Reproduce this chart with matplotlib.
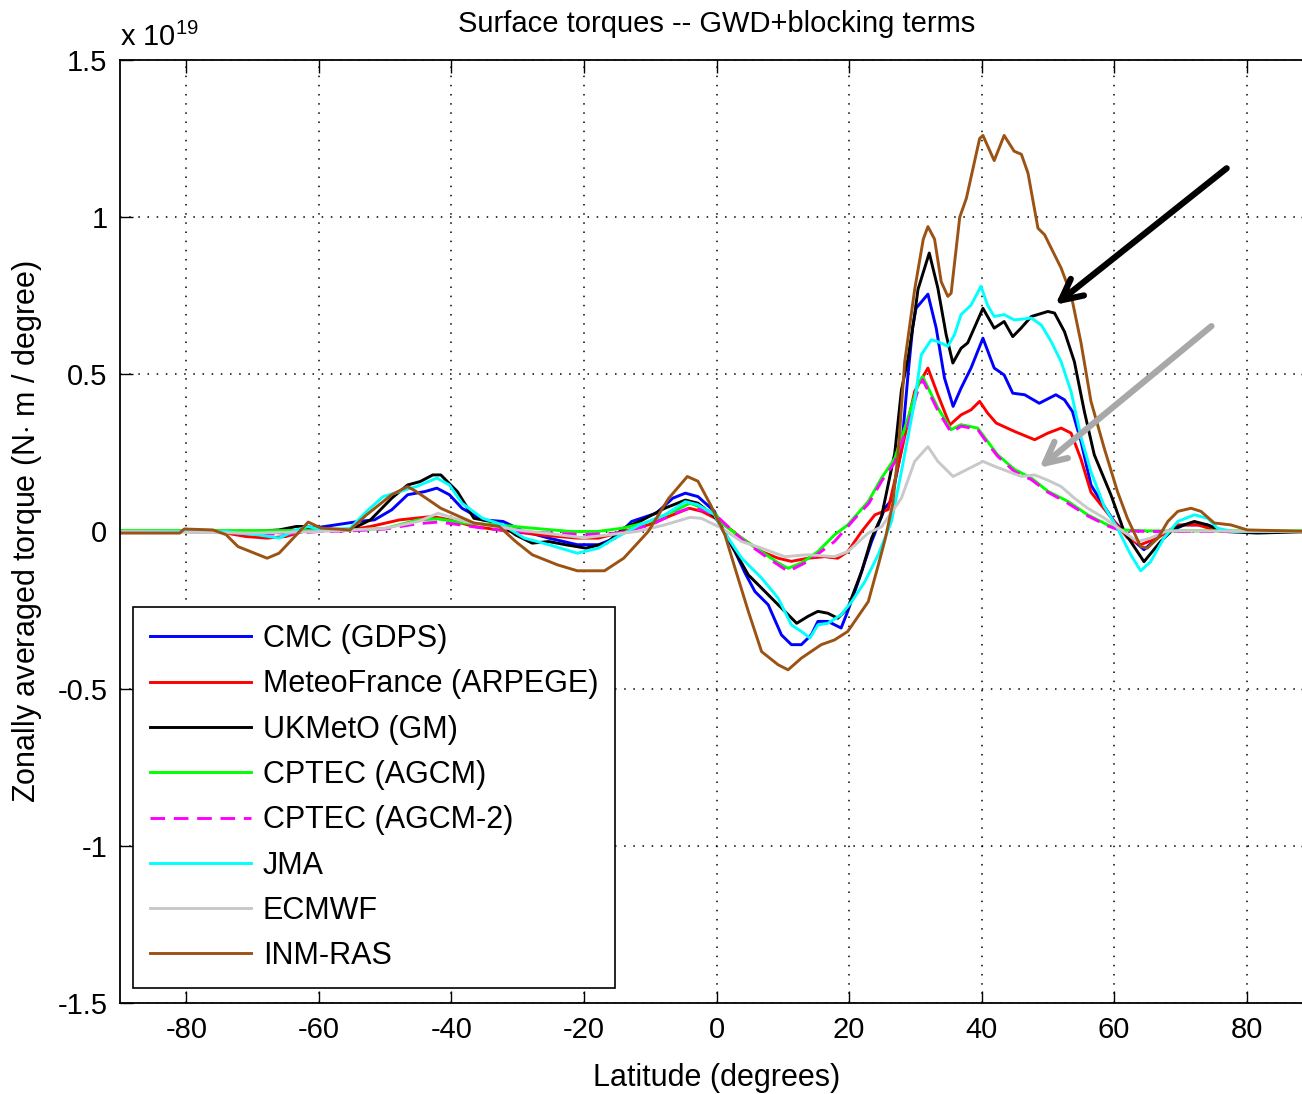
import matplotlib
matplotlib.use("Agg")
import matplotlib.pyplot as plt

# values in units of 1e19 N m / degree
lat_cmc = [-90, -70, -65, -61, -57.8, -54, -51.6, -49, -46.6, -44, -42.2, -40.3, -38.4, -35.3, -32.2, -29,
           -25.3, -21, -17.8, -15.3, -12.8, -9.1, -6.6, -4.7, -2.8, -0.3, 0.75, 2.8, 4.3, 5.8, 7.8, 9.8,
           11.3, 12.8, 14.3, 15.3, 16.8, 18.8, 19.8, 21.4, 23.4, 25.4, 26.4, 27.9, 28.9, 29.6, 30.1, 31.9,
           33.15, 34.4, 35.7, 36.9, 38.4, 40.2, 41.9, 43.4, 44.7, 46.5, 48.7, 51.2, 52.5, 53.7, 55, 56.5,
           58, 60, 62.5, 64.5, 67, 70.6, 74, 76.6, 90]
val_cmc = [0, 0, -0.005, 0.01, 0.02, 0.032, 0.037, 0.069, 0.117, 0.127, 0.138, 0.117, 0.074, 0.037, 0.032, 0,
           -0.021, -0.042, -0.042, -0.021, 0.032, 0.058, 0.106, 0.122, 0.111, 0.064, 0.011, -0.064, -0.132,
           -0.191, -0.233, -0.329, -0.36, -0.36, -0.329, -0.286, -0.286, -0.307, -0.254, -0.159, -0.032,
           0.074, 0.1, 0.26, 0.5, 0.65, 0.71, 0.755, 0.647, 0.488, 0.398, 0.456, 0.52, 0.615, 0.52, 0.498,
           0.44, 0.435, 0.408, 0.435, 0.419, 0.382, 0.286, 0.148, 0.096, 0.032, -0.021, -0.058, -0.011,
           0.021, 0.021, 0, 0]

lat_mf = [-90, -76, -74, -71, -67.8, -65, -61.6, -55.3, -52.2, -47.8, -42.8, -40.3, -36.6, -32.8, -26.6,
          -21, -17.8, -14, -10.3, -6.6, -4.1, -2.2, 0.3, 3.8, 6.8, 9.3, 11.3, 13.8, 16.3, 18.3, 19.8, 21.9,
          23.9, 25.9, 27.9, 29.9, 31.9, 33.4, 35.2, 36.9, 38.4, 39.7, 40.9, 42.2, 45, 48, 50, 52, 53.5, 55,
          56.5, 58, 60, 62, 64, 66.5, 69.6, 72.6, 76, 90]
val_mf = [0, 0, -0.005, -0.016, -0.021, -0.016, 0.005, 0.005, 0.016, 0.037, 0.048, 0.037, 0.016, 0.005,
          -0.011, -0.021, -0.021, 0, 0.021, 0.053, 0.074, 0.064, 0.037, -0.021, -0.064, -0.085, -0.095,
          -0.085, -0.08, -0.085, -0.064, 0, 0.053, 0.07, 0.255, 0.446, 0.52, 0.435, 0.339, 0.371, 0.387,
          0.414, 0.377, 0.345, 0.318, 0.292, 0.313, 0.329, 0.313, 0.23, 0.125, 0.085, 0.032, -0.02, -0.042,
          -0.021, 0.021, 0.021, 0, 0]

lat_uk = [-90, -70, -66, -63.4, -61.6, -59.7, -55.3, -52.2, -49, -46.6, -44.7, -42.8, -41.6, -39.1, -36.6,
          -32.8, -30.3, -27.8, -25.3, -22.8, -19.7, -16.6, -14, -11.6, -7.8, -4.7, -2.8, -0.3, 0.75, 2.8,
          4.8, 6.8, 9.3, 12.1, 13.8, 15.3, 16.8, 18.3, 19.8, 21.9, 23.4, 24.9, 26.9, 27.9, 28.9, 29.9, 30.4,
          32.1, 33.4, 34.65, 35.66, 36.9, 37.9, 40.2, 41.9, 43.4, 44.7, 45.95, 47.5, 50, 51, 52.5, 54, 55.5,
          57, 59.5, 61.5, 64.5, 67, 69.1, 72.1, 74.1, 76.6, 81.6, 90]
val_uk = [0, 0, 0.005, 0.016, 0.016, 0.005, 0.005, 0.037, 0.106, 0.148, 0.159, 0.18, 0.18, 0.127, 0.042,
          0.027, -0.011, -0.037, -0.032, -0.042, -0.053, -0.037, 0.011, 0.032, 0.074, 0.1, 0.09, 0.048,
          0.016, -0.064, -0.138, -0.18, -0.233, -0.292, -0.27, -0.254, -0.26, -0.276, -0.244, -0.127,
          -0.021, 0.048, 0.25, 0.45, 0.55, 0.69, 0.77, 0.886, 0.774, 0.626, 0.536, 0.583, 0.6, 0.71, 0.647,
          0.668, 0.62, 0.647, 0.684, 0.70, 0.695, 0.636, 0.54, 0.382, 0.244, 0.117, 0, -0.096, -0.032,
          0.011, 0.032, 0.021, 0, -0.005, 0]

lat_cp = [-90, -60, -55, -50, -45, -42, -38, -33, -28, -22, -18, -14, -10, -6, -4, -2, 0, 0.75, 3.8, 6.8,
          9.3, 10.8, 12.8, 15.3, 17.8, 19.8, 22.9, 24.9, 26.9, 28.9, 30.4, 31.1, 33.4, 35.4, 36.9, 39.4,
          40.9, 42.4, 45, 47.5, 50, 53, 56, 59, 61, 65, 90]
val_cp = [0.003, 0.003, 0.005, 0.01, 0.037, 0.04, 0.027, 0.021, 0.011, 0, 0, 0.011, 0.032, 0.069, 0.09,
          0.074, 0.053, 0.027, -0.021, -0.064, -0.1, -0.117, -0.1, -0.064, -0.011, 0.021, 0.0955, 0.17,
          0.233, 0.361, 0.467, 0.493, 0.393, 0.324, 0.34, 0.329, 0.287, 0.244, 0.197, 0.17, 0.128, 0.096,
          0.053, 0.021, 0.005, 0.002, 0.002]

lat_cp2 = [-90, -75, -70, -65, -60, -55, -50, -45, -42, -40, -35, -30, -25, -20, -15, -10, -6, -4, -2, 0,
           3.8, 7.8, 10.8, 13.8, 17.8, 20.9, 23, 24.9, 26.9, 28.9, 30.4, 31.1, 33.4, 35.4, 36.9, 39.4, 40.9,
           42.4, 45, 47.5, 50, 53, 56, 59, 61, 65, 90]
val_cp2 = [0, -0.003, -0.008, -0.008, 0, 0.002, 0.008, 0.025, 0.03, 0.025, 0.01, 0.0, -0.005, -0.01,
           -0.005, 0.02, 0.06, 0.075, 0.068, 0.05, -0.025, -0.085, -0.127, -0.095, -0.032, 0.042, 0.09,
           0.16, 0.22, 0.34, 0.45, 0.483, 0.385, 0.315, 0.335, 0.325, 0.28, 0.24, 0.19, 0.165, 0.125, 0.09,
           0.05, 0.018, 0.003, 0, 0]

lat_jma = [-90, -74, -72.2, -69, -66, -63.4, -61.6, -59.7, -55.3, -52.8, -50.3, -47.8, -45.3, -42.2, -40.3,
           -38.4, -35.3, -32.2, -29, -25.3, -21, -17.8, -15.3, -11.6, -7.8, -4.7, -2.8, -0.3, 0.75, 3.8,
           6.8, 9.3, 11.3, 12.8, 14.1, 15.3, 16.8, 18.8, 20.4, 22.4, 24.4, 26.4, 27.9, 29.9, 30.9, 32.4,
           33.4, 34.9, 35.9, 36.9, 38.4, 39.9, 40.9, 41.9, 43.4, 44.95, 47.5, 49, 50.5, 52, 53.5, 55, 56.5,
           58.5, 60.5, 62.5, 64, 65.5, 67.5, 69.6, 72.1, 74.1, 75.6, 78, 90]
val_jma = [0, 0, -0.005, -0.011, -0.021, 0.005, 0.016, 0.005, 0.01, 0.064, 0.111, 0.127, 0.143, 0.17, 0.148,
           0.09, 0.042, 0.021, -0.021, -0.042, -0.069, -0.053, -0.021, 0.021, 0.053, 0.095, 0.085, 0.053,
           0.011, -0.085, -0.148, -0.212, -0.297, -0.318, -0.339, -0.297, -0.292, -0.265, -0.223, -0.159,
           -0.074, 0.032, 0.191, 0.414, 0.562, 0.61, 0.604, 0.589, 0.626, 0.69, 0.72, 0.78, 0.72, 0.684,
           0.69, 0.673, 0.679, 0.657, 0.604, 0.54, 0.445, 0.3, 0.19, 0.08, 0.01, -0.074, -0.125, -0.096,
           -0.021, 0.032, 0.053, 0.042, 0.01, 0, 0]

lat_ec = [-90, -70, -60, -50, -45, -42, -38, -30, -20, -12, -8, -4, -2.3, 0.75, 3.8, 6.8, 10.3, 13.8, 17.8,
          19.8, 22.9, 24.9, 27.9, 29.9, 31.9, 33.4, 35.7, 37.2, 38.7, 40.2, 42, 44, 46, 48, 50, 52, 54, 56,
          58.5, 60.5, 63.5, 65.5, 68, 90]
val_ec = [0, -0.005, 0, 0.01, 0.032, 0.058, 0.032, 0.005, -0.02, 0.0, 0.02, 0.045, 0.042, 0.011, -0.032,
          -0.053, -0.08, -0.074, -0.08, -0.064, -0.005, 0.015, 0.106, 0.223, 0.27, 0.223, 0.175, 0.191,
          0.207, 0.223, 0.207, 0.191, 0.175, 0.18, 0.163, 0.143, 0.106, 0.074, 0.043, 0.013, -0.032, -0.021,
          0.002, 0]

lat_inm = [-90, -81, -80.3, -76, -74, -72.2, -67.8, -66, -63.4, -61.6, -59.7, -55.3, -52.8, -49, -46.6,
           -45.3, -43.4, -41.6, -36.6, -32.8, -30.3, -27.8, -24, -21, -16.9, -14, -10.3, -7.2, -4.4, -2.8,
           -0.9, 1.26, 2.8, 4.8, 6.8, 9.3, 10.8, 12.8, 15.8, 17.8, 19.8, 22.9, 24.5, 25.5, 26.6, 27.4, 28.4,
           29.9, 31.2, 31.9, 32.9, 33.9, 34.9, 35.4, 36.7, 37.7, 39.7, 40.2, 41.9, 43.4, 44.9, 46, 47, 48.5,
           49.5, 52, 53.5, 55, 56.5, 58.5, 60.5, 62, 64, 65, 66.6, 68.1, 69.6, 71.6, 73.1, 75.1, 77.6, 80.1, 90]
val_inm = [-0.005, -0.005, 0.008, 0.005, -0.01, -0.048, -0.085, -0.069, -0.011, 0.03, 0.011, 0.005, 0.053,
           0.117, 0.143, 0.127, 0.1, 0.074, 0.027, 0.016, -0.032, -0.074, -0.106, -0.125, -0.125, -0.085, 0,
           0.106, 0.175, 0.16, 0.085, -0.01, -0.117, -0.254, -0.382, -0.424, -0.44, -0.403, -0.36, -0.345,
           -0.318, -0.223, -0.1, -0.02, 0.09, 0.25, 0.54, 0.77, 0.93, 0.97, 0.93, 0.795, 0.748, 0.758, 1.0,
           1.06, 1.25, 1.26, 1.18, 1.26, 1.21, 1.2, 1.14, 0.965, 0.944, 0.838, 0.753, 0.6, 0.414, 0.265,
           0.127, 0.042, -0.048, -0.053, -0.021, 0.032, 0.064, 0.074, 0.064, 0.027, 0.021, 0.005, 0]

names = ["CMC (GDPS)", "MeteoFrance (ARPEGE)", "UKMetO (GM)", "CPTEC (AGCM)",
         "CPTEC (AGCM-2)", "JMA", "ECMWF", "INM-RAS"]
colors = ["#0000ff", "#ff0000", "#000000", "#00ff00", "#ff00ff", "#00ffff", "#c8c8c8", "#9b5213"]

plt.rcParams["font.family"] = ["Liberation Sans", "DejaVu Sans"]
plt.rcParams["axes.unicode_minus"] = False
plt.rcParams["mathtext.fontset"] = "custom"
plt.rcParams["mathtext.rm"] = "Liberation Sans"

fig = plt.figure(figsize=(13.02, 10.94), dpi=100)
ax = fig.add_axes([120 / 1302, 91 / 1094, 1193 / 1302, 943 / 1094])

series = [(lat_cmc, val_cmc), (lat_mf, val_mf), (lat_uk, val_uk), (lat_cp, val_cp),
          (lat_cp2, val_cp2), (lat_jma, val_jma), (lat_ec, val_ec), (lat_inm, val_inm)]
for (lx, vy), name, c in zip(series, names, colors):
    if name == "CPTEC (AGCM-2)":
        ax.plot(lx, vy, color=c, lw=2.1, dashes=(5, 3), label=name)
    else:
        ax.plot(lx, vy, color=c, lw=2.1, label=name)

ax.set_xlim(-90, 90)
ax.set_ylim(-1.5, 1.5)
ax.set_xticks(range(-80, 81, 20))
ax.set_yticks([-1.5, -1, -0.5, 0, 0.5, 1, 1.5])
ax.set_yticklabels(["-1.5", "-1", "-0.5", "0", "0.5", "1", "1.5"])
ax.tick_params(direction="in", length=9, width=1, top=True, right=True, labelsize=21, pad=9)
ax.grid(True, color="k", linestyle=(0, (1, 5)), lw=1.1)
for s in ax.spines.values():
    s.set_linewidth(1.3)

ax.set_xlabel("Latitude (degrees)", fontsize=22, labelpad=14)
ax.set_ylabel("Zonally averaged torque (N$\\cdot$ m / degree)", fontsize=22, labelpad=10)
ax.set_title("Surface torques -- GWD+blocking terms", fontsize=21, pad=20)
ax.text(0.0, 1.008, "x 10$^{19}$", transform=ax.transAxes, fontsize=21, ha="left", va="bottom")

# arrows pointing at UKMetO and ECMWF curves
ax.annotate("", xy=(50.8, 0.716), xytext=(77.3, 1.161),
            arrowprops=dict(arrowstyle="->", lw=4.5, color="k", mutation_scale=38))
ax.annotate("", xy=(48.4, 0.197), xytext=(75.0, 0.659),
            arrowprops=dict(arrowstyle="->", lw=4.5, color="#a8a8a8", mutation_scale=38))

leg = ax.legend(loc="lower left", bbox_to_anchor=(0.011, 0.016), borderaxespad=0, fontsize=22,
                frameon=True, fancybox=False, edgecolor="k", framealpha=1,
                handlelength=3.3, handletextpad=0.4, labelspacing=0.5, borderpad=0.55)
leg.get_frame().set_linewidth(1.2)

fig.savefig("out.png", dpi=100)
